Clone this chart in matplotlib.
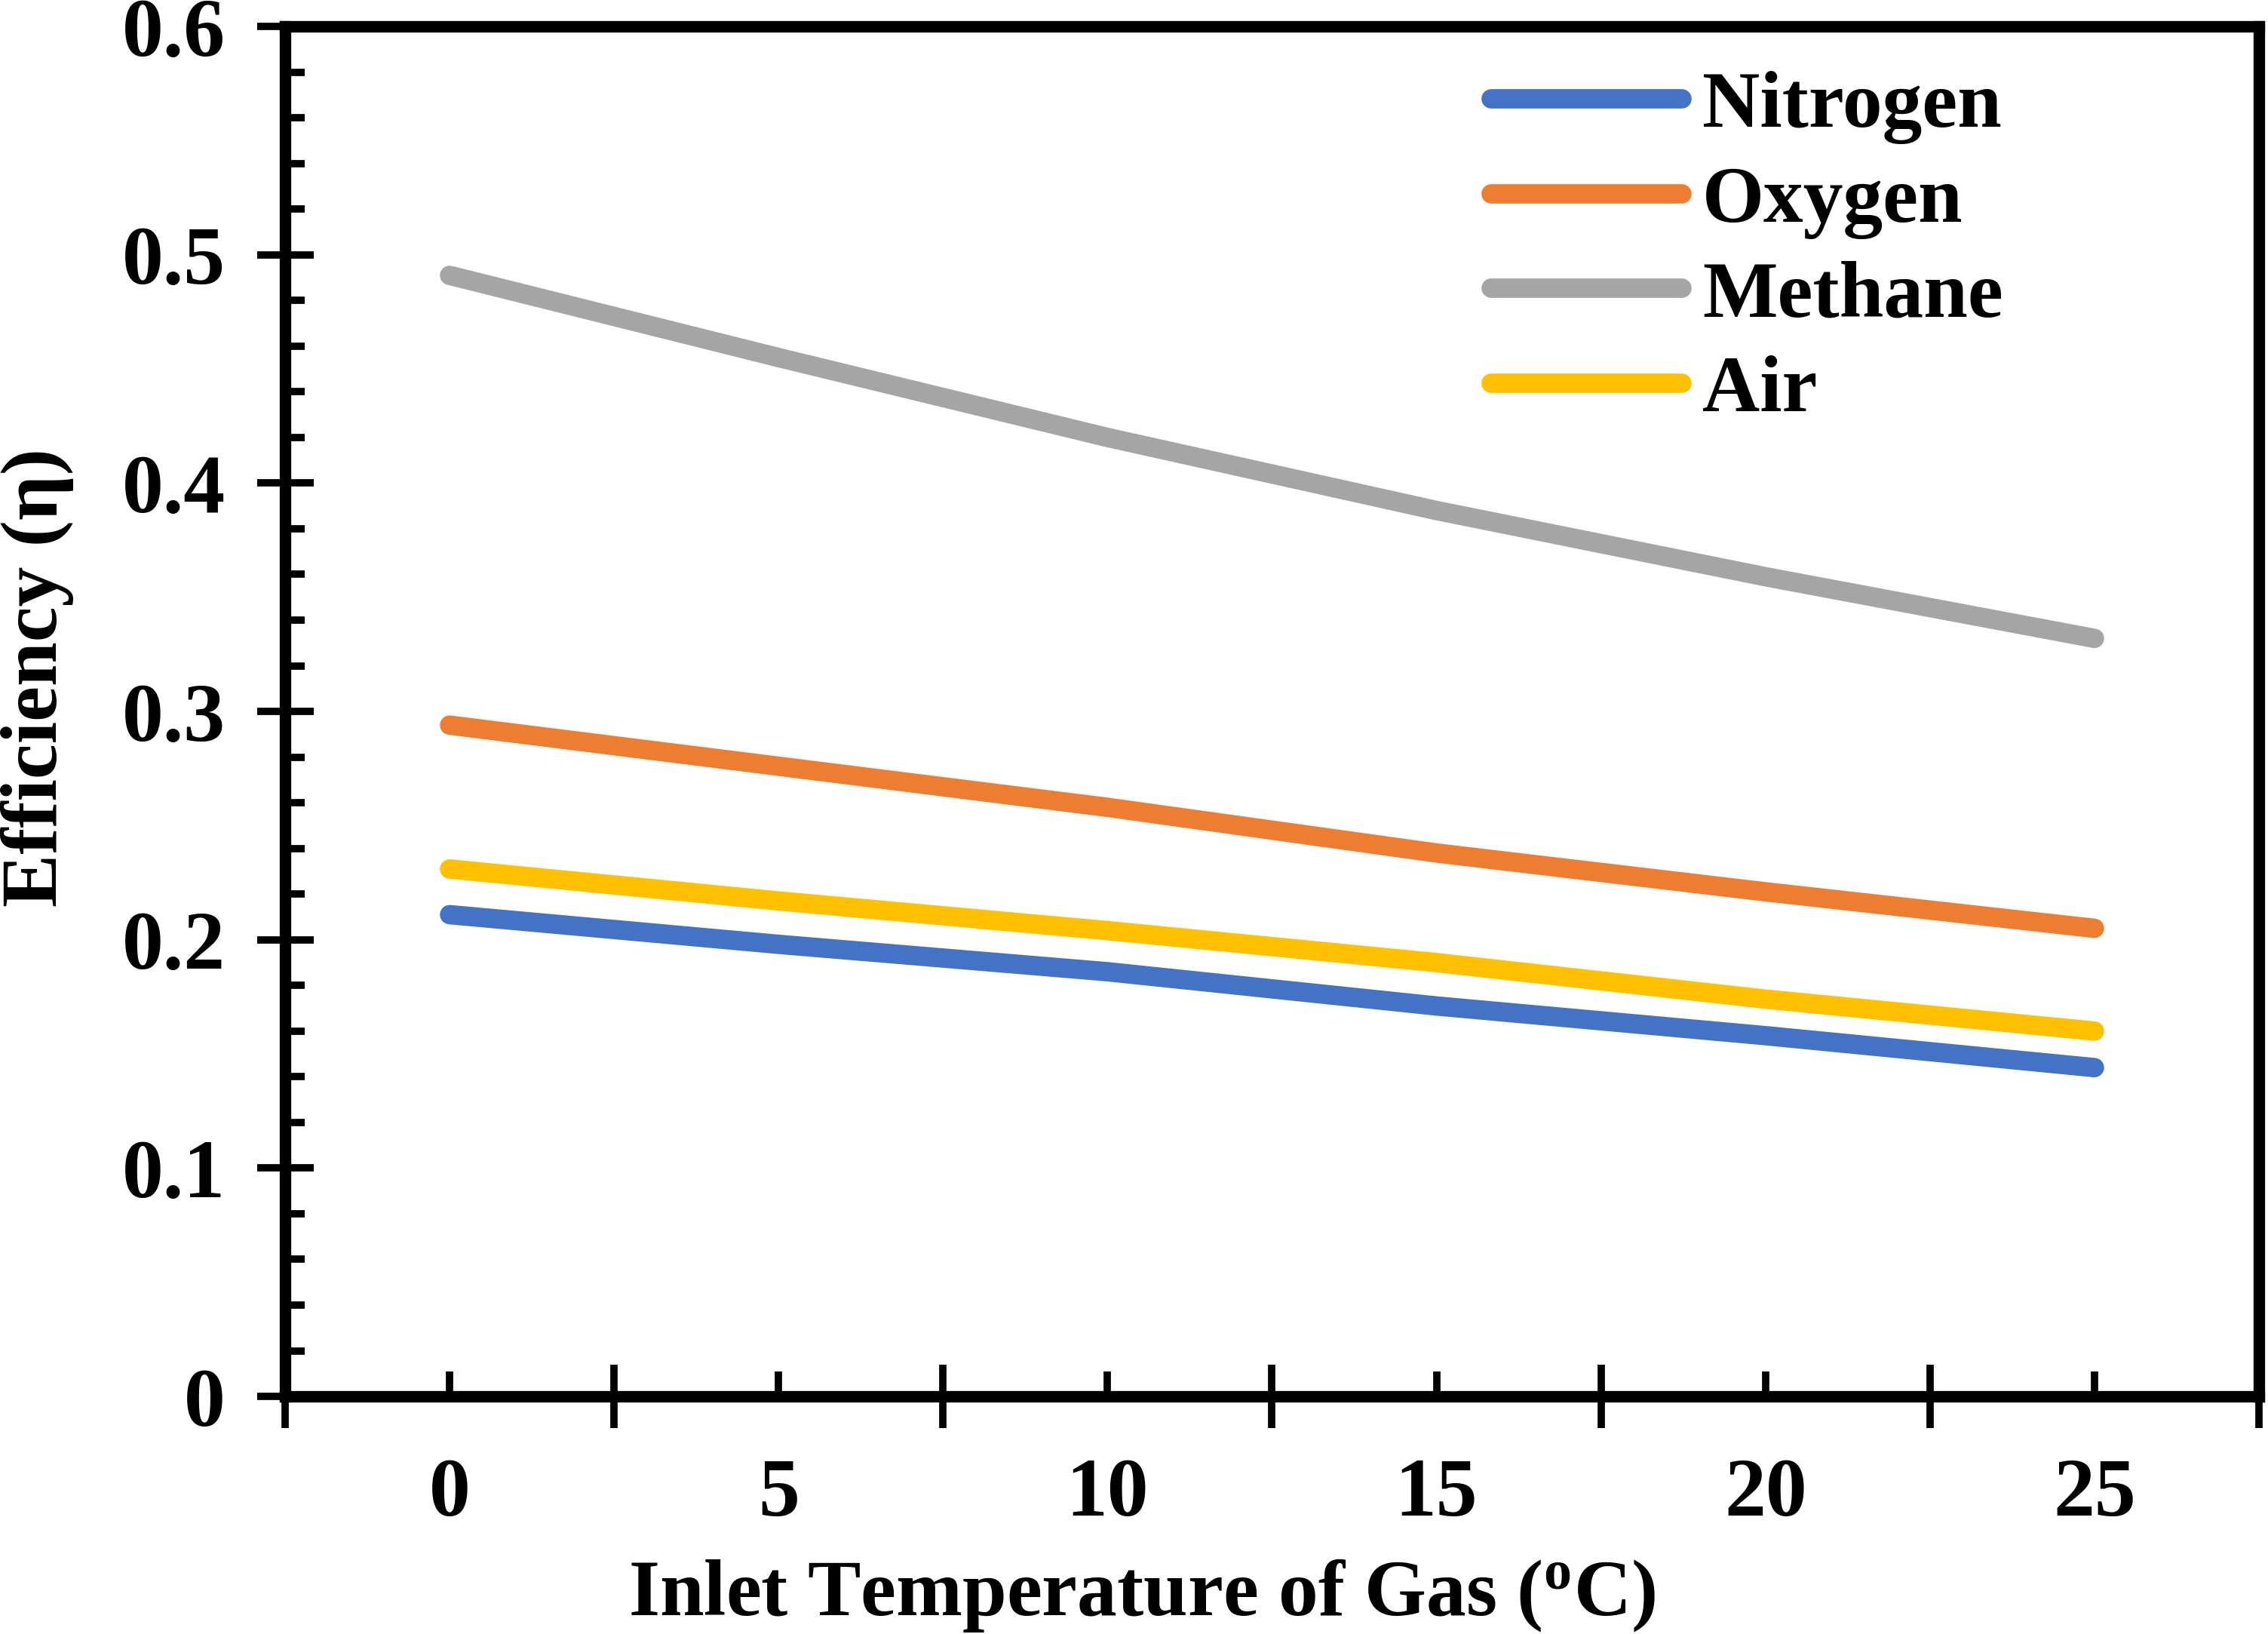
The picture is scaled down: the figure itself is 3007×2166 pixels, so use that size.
import numpy as np
import matplotlib
matplotlib.use("Agg")
import matplotlib.pyplot as plt
from matplotlib.ticker import MultipleLocator, FixedLocator

# inlet temperature (oC) categories
temps = [0, 5, 10, 15, 20, 25]

# efficiency
nitrogen = [0.211, 0.198, 0.186, 0.171, 0.158, 0.144]
oxygen = [0.294, 0.276, 0.258, 0.238, 0.221, 0.205]
methane = [0.491, 0.455, 0.420, 0.388, 0.359, 0.332]
air = [0.231, 0.217, 0.204, 0.190, 0.174, 0.160]

names = ["Nitrogen", "Oxygen", "Methane", "Air"]
colors = ["#4472C4", "#ED7D31", "#A5A5A5", "#FFC000"]

plt.rcParams['font.family'] = ['Liberation Serif', 'DejaVu Serif']
plt.rcParams['font.weight'] = 'bold'
plt.rcParams['mathtext.fontset'] = 'custom'
plt.rcParams['mathtext.rm'] = 'Liberation Serif:bold'
plt.rcParams['mathtext.bf'] = 'Liberation Serif:bold'

fig = plt.figure(figsize=(30.07, 21.66), dpi=100)
ax = fig.add_axes([0.1257, 0.1454, 0.996 - 0.1257, 0.9838 - 0.1454])

x = np.arange(len(temps))
for series, name, c in zip([nitrogen, oxygen, methane, air], names, colors):
    ax.plot(x, series, color=c, lw=18.5, solid_capstyle='round', label=name)

ax.set_xlim(-0.5, len(temps) - 0.5)
ax.set_ylim(0, 0.6)

# y ticks
ax.set_yticks(np.arange(0, 0.61, 0.1))
ax.set_yticklabels(["0", "0.1", "0.2", "0.3", "0.4", "0.5", "0.6"])
ax.yaxis.set_minor_locator(MultipleLocator(0.02))

# x ticks: majors at category boundaries, labels at centres (minor)
ax.xaxis.set_major_locator(FixedLocator(np.arange(-0.5, len(temps), 1.0)))
ax.xaxis.set_minor_locator(FixedLocator(x))
ax.set_xticklabels([], minor=False)
ax.set_xticklabels([str(t) for t in temps], minor=True)

ax.tick_params(axis='y', which='major', direction='inout', length=54, width=7,
               labelsize=79, pad=30)
ax.tick_params(axis='y', which='minor', direction='in', length=19, width=7)
ax.tick_params(axis='x', which='major', direction='inout', length=60, width=7)
ax.tick_params(axis='x', which='minor', direction='in', length=24, width=7,
               labelsize=79, pad=58)

for s in ax.spines.values():
    s.set_linewidth(11)

ax.set_xlabel(r'Inlet Temperature of Gas ($\mathbf{^{o}}$C)', fontsize=76,
              fontweight='bold')
ax.set_ylabel('Efficiency (η)', fontsize=76, fontweight='bold')
ax.xaxis.set_label_coords(0.434, -0.117)
ax.yaxis.set_label_coords(-0.107, 0.525)

ax.legend(loc='upper left', bbox_to_anchor=(0.603, 0.979), frameon=False,
          fontsize=76, handlelength=2.4, handletextpad=0.25, labelspacing=0.27,
          borderpad=0.2, borderaxespad=0)

fig.savefig("out.png", dpi=100)
